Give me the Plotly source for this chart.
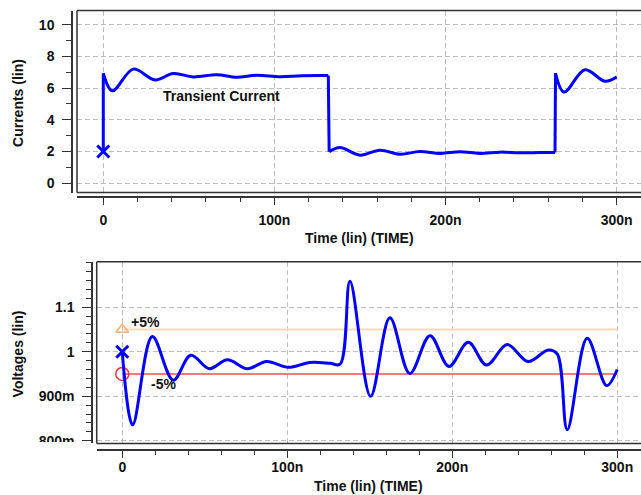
import plotly.graph_objects as go

# ---------------- data (time in ns) ----------------
t_current = [0, 0, 5.3, 17.5, 30.2, 40.9, 52.6, 66.3, 78, 89.6, 103.3, 116, 131.5,
             132, 138.3, 150, 161.7, 173.4, 185, 196.8, 208.5, 220, 231.8, 243.5, 255, 264,
             264.3, 269.3, 281.5, 293.2, 300]
i_current = [2, 6.94, 5.83, 7.2, 6.52, 6.92, 6.71, 6.85, 6.69, 6.81, 6.72, 6.78, 6.79,
             1.98, 2.25, 1.77, 2.08, 1.83, 2.0, 1.88, 1.98, 1.88, 1.96, 1.92, 1.93, 1.94,
             6.95, 5.75, 7.16, 6.43, 6.7]

t_voltage = [0, 6.3, 18.2, 30.9, 41.5, 52.8, 63.7, 75.8, 87.5, 100.6, 113.8, 125.9, 132,
             138, 150.5, 162.2, 174.3, 186.5, 198, 209.7, 220.8, 233.3, 246, 258.2, 263.6,
             269.7, 281.8, 293.6, 300]
v_voltage = [1.0, 0.836, 1.034, 0.936, 0.992, 0.962, 0.982, 0.962, 0.978, 0.965, 0.976, 0.974, 0.972,
             1.158, 0.90, 1.076, 0.951, 1.036, 0.967, 1.021, 0.970, 1.016, 0.978, 1.004, 0.995,
             0.825, 1.030, 0.924, 0.96]

limit_t = [0, 300]
upper_limit = [1.05, 1.05]
lower_limit = [0.95, 0.95]

x_tickvals = [0, 100, 200, 300]
x_ticktext = ["0", "100n", "200n", "300n"]
i_tickvals = [0, 2, 4, 6, 8, 10]
i_ticktext = ["0", "2", "4", "6", "8", "10"]
v_tickvals = [0.8, 0.9, 1.0, 1.1]
v_ticktext = ["800m", "900m", "1", "1.1"]

W, H = 641, 495
def px(x):
    return x / W
def py(y):
    return 1 - y / H

FONT = "Liberation Sans, Arial, sans-serif"
BLUE = "#0000ff"
AX = "#333333"
GRID = "#bdbdbd"

fig = go.Figure()

def add_wave(t, v, xa, ya):
    """Smooth segments drawn as splines, near-instant steps drawn as straight lines."""
    seg = [0]
    for k in range(1, len(t)):
        if t[k] - t[k - 1] < 1.0:          # step in the waveform
            if len(seg) > 1:
                fig.add_trace(go.Scatter(x=[t[i] for i in seg], y=[v[i] for i in seg],
                                         mode="lines", xaxis=xa, yaxis=ya, showlegend=False,
                                         hoverinfo="skip",
                                         line=dict(color=BLUE, width=3, shape="spline", smoothing=1)))
            fig.add_trace(go.Scatter(x=[t[k - 1], t[k]], y=[v[k - 1], v[k]], mode="lines",
                                     xaxis=xa, yaxis=ya, showlegend=False, hoverinfo="skip",
                                     line=dict(color=BLUE, width=3)))
            seg = [k]
        else:
            seg.append(k)
    if len(seg) > 1:
        fig.add_trace(go.Scatter(x=[t[i] for i in seg], y=[v[i] for i in seg],
                                 mode="lines", xaxis=xa, yaxis=ya, showlegend=False,
                                 hoverinfo="skip",
                                 line=dict(color=BLUE, width=3, shape="spline", smoothing=1)))

# top: current
add_wave(t_current, i_current, "x", "y")
fig.add_trace(go.Scatter(x=t_current[:1], y=i_current[:1], mode="markers",
                         marker=dict(symbol="x-thin", size=12, line=dict(color=BLUE, width=3)),
                         xaxis="x", yaxis="y", showlegend=False))

# bottom: voltage limits
fig.add_trace(go.Scatter(x=limit_t, y=upper_limit, mode="lines",
                         line=dict(color="#ffd9b8", width=2),
                         xaxis="x2", yaxis="y2", showlegend=False))
fig.add_trace(go.Scatter(x=limit_t, y=lower_limit, mode="lines",
                         line=dict(color="#ff4d4d", width=1.5),
                         xaxis="x2", yaxis="y2", showlegend=False))
fig.add_trace(go.Scatter(x=limit_t[:1], y=upper_limit[:1], mode="markers",
                         marker=dict(symbol="triangle-up-open", size=11, color="#f5b27a",
                                     line=dict(width=1.5, color="#f5b27a")),
                         xaxis="x2", yaxis="y2", showlegend=False))
fig.add_trace(go.Scatter(x=limit_t[:1], y=lower_limit[:1], mode="markers",
                         marker=dict(symbol="circle-open", size=13, color="#ff3333",
                                     line=dict(width=1.5, color="#ff3333")),
                         xaxis="x2", yaxis="y2", showlegend=False))
add_wave(t_voltage, v_voltage, "x2", "y2")
fig.add_trace(go.Scatter(x=t_voltage[:1], y=v_voltage[:1], mode="markers",
                         marker=dict(symbol="x-thin", size=12, line=dict(color=BLUE, width=3)),
                         xaxis="x2", yaxis="y2", showlegend=False))

tickfont = dict(family=FONT, size=14, color="#111111", weight="bold")

def xaxis_cfg(domain_left, pos, rng, standoff):
    return dict(domain=[px(domain_left), 1], anchor="free", position=pos, range=rng,
                tickvals=x_tickvals, ticktext=x_ticktext, ticks="outside", ticklen=7,
                tickwidth=1.2, tickcolor=AX, showline=True, linecolor=AX, linewidth=1.5,
                showgrid=True, gridcolor=GRID, griddash="5px,3px", gridwidth=1,
                zeroline=False, tickfont=tickfont, ticklabelstandoff=standoff,
                minor=dict(dtick=20, tick0=0, ticks="outside", ticklen=4, tickcolor=AX,
                           tickwidth=1.2, showgrid=False))

def yaxis_cfg(top, bottom, pos, rng, tv, tt, minor_dtick, minor_tick0):
    return dict(domain=[py(bottom), py(top)], anchor="free", position=pos, range=rng,
                tickvals=tv, ticktext=tt, ticks="outside", ticklen=9, tickwidth=1.2,
                tickcolor=AX, showline=True, linecolor=AX, linewidth=1.5,
                showgrid=True, gridcolor=GRID, griddash="5px,3px", gridwidth=1,
                zeroline=False, tickfont=tickfont, ticklabelstandoff=5,
                minor=dict(dtick=minor_dtick, tick0=minor_tick0, ticks="outside", ticklen=5,
                           tickcolor=AX, tickwidth=1.2, showgrid=False))

# panel geometry (pixels)
T_top, T_bot, T_left = 10.7, 194.5, 77
B_top, B_bot, B_left = 264.5, 448, 96.7

layout = dict(
    width=W, height=H, autosize=False,
    margin=dict(l=0, r=0, t=0, b=0),
    paper_bgcolor="white", plot_bgcolor="white",
    xaxis=xaxis_cfg(T_left, py(199.5), [-15.37, 314.25], 3),
    yaxis=yaxis_cfg(T_top, T_bot, px(72), [-0.59, 10.894], i_tickvals, i_ticktext, 1, 1),
    xaxis2=xaxis_cfg(B_left, py(455), [-15.5, 314.4], -3),
    yaxis2=yaxis_cfg(B_top, B_bot, px(92), [0.794, 1.2018], v_tickvals, v_ticktext, 0.02, 0.8),
)
fig.update_layout(**layout)

# plot boxes (top, left, bottom borders)
shapes = []
for xr, yr in (("x domain", "y domain"), ("x2 domain", "y2 domain")):
    for (x0, y0, x1, y1) in ((0, 1, 1, 1), (0, 0, 0, 1), (0, 0, 1, 0)):
        shapes.append(dict(type="line", xref=xr, yref=yr, x0=x0, y0=y0, x1=x1, y1=y1,
                           line=dict(color=AX, width=1.5), layer="above"))
# clip the lowest voltage tick label like the reference
shapes.append(dict(type="rect", xref="paper", yref="paper", x0=0, x1=px(82),
                   y0=py(462), y1=py(446.5), fillcolor="white", line=dict(width=0),
                   layer="above"))
fig.update_layout(shapes=shapes)

title_font = dict(family=FONT, size=14, color="#111111", weight="bold")
annotations = [
    dict(text="Currents (lin)", xref="paper", yref="paper", x=px(18), y=py(104),
         textangle=-90, showarrow=False, font=title_font, xanchor="center", yanchor="middle"),
    dict(text="Voltages (lin)", xref="paper", yref="paper", x=px(18), y=py(358),
         textangle=-90, showarrow=False, font=title_font, xanchor="center", yanchor="middle"),
    dict(text="Time (lin) (TIME)", xref="paper", yref="paper", x=px((T_left + W) / 2), y=py(240),
         showarrow=False, font=title_font, xanchor="center", yanchor="middle"),
    dict(text="Time (lin) (TIME)", xref="paper", yref="paper", x=px((B_left + W) / 2), y=py(491),
         showarrow=False, font=title_font, xanchor="center", yanchor="middle"),
    dict(text="Transient Current", xref="x", yref="y", x=69.1, y=5.52,
         showarrow=False, font=title_font, xanchor="center", yanchor="middle"),
    dict(text="+5%", xref="x2", yref="y2", x=14.1, y=1.067,
         showarrow=False, font=title_font, xanchor="center", yanchor="middle"),
    dict(text="-5%", xref="x2", yref="y2", x=24.7, y=0.927,
         showarrow=False, font=title_font, xanchor="center", yanchor="middle"),
]
fig.update_layout(annotations=annotations)

fig.write_html("out.html")
